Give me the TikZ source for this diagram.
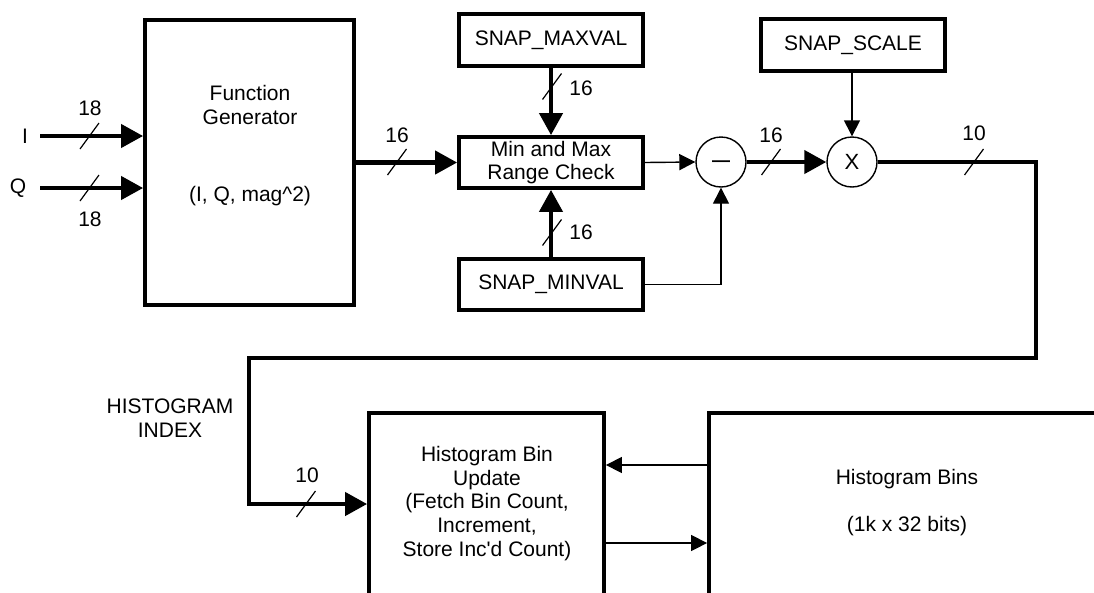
\documentclass[tikz,border=0pt]{standalone}
\usepackage{fontspec}
\setmainfont{Liberation Sans}
\usetikzlibrary{arrows.meta}
\begin{document}
\begin{tikzpicture}[x=1pt,y=-1pt,
  txt/.style={font=\fontsize{21}{23.7}\selectfont, inner sep=0pt, align=center},
  blk/.style={txt, draw, line width=3.8pt, rectangle},
  sumnode/.style={txt, draw, circle, line width=1.4pt, minimum size=50pt},
  bus/.style={line width=4.2pt},
  sig/.style={line width=1.4pt},
  bigtip/.style={-{Triangle[length=22pt,width=23pt]}},
  smalltip/.style={-{Triangle[length=16pt,width=16pt]}},
  slashmark/.style={line width=1.2pt},
]
\useasboundingbox (0,0) rectangle (1094,592);
\clip (0,0) rectangle (1094,592);

% blocks
\node[blk, minimum width=209pt, minimum height=285pt] (fg) at (249.5,162.5) {};
\node[txt] (fgt1) at (250,105) {Function\\Generator};
\node[txt] (fgt2) at (250,196) {(I, Q, mag\textasciicircum 2)};

\node[blk, minimum width=184pt, minimum height=52pt] (maxv) at (551,40) {SNAP\_MAXVAL};
\node[blk, minimum width=184pt, minimum height=51pt] (mm) at (551,162.5) {Min and Max\\Range Check};
\node[blk, minimum width=184pt, minimum height=51pt] (minv) at (551,284.5) {SNAP\_MINVAL};
\node[blk, minimum width=184pt, minimum height=52pt] (scale) at (853,45) {SNAP\_SCALE};

\node[sumnode] (minus) at (721,162) {};
\node[txt, font=\fontsize{18}{20}\selectfont\bfseries, yshift=-2pt] (minustxt) at (minus.center) {—};
\node[sumnode, font=\fontsize{22}{24}\selectfont] (times) at (852,162) {X};

\node[blk, minimum width=235pt, minimum height=227pt] (hbu) at (486.5,526.5) {};
\node[txt] (hbut) at (487,503.5) {Histogram Bin\\Update\\(Fetch Bin Count,\\Increment,\\Store Inc\textquotesingle d Count)};
\node[blk, minimum width=421pt, minimum height=227pt] (hb) at (919.5,526.5) {};
\node[txt] (hbt1) at (907,479) {Histogram Bins};
\node[txt] (hbt2) at (907,526) {(1k x 32 bits)};

% labels
\node[txt] (lI) at (25,136) {I};
\node[txt] (lQ) at (18,188) {Q};
\node[txt] (n18a) at (90,108) {18};
\node[txt] (n18b) at (90,219) {18};
\node[txt] (n16a) at (397,135) {16};
\node[txt] (n16b) at (581,88) {16};
\node[txt] (n16c) at (581,232) {16};
\node[txt] (n16d) at (771,135) {16};
\node[txt] (n10a) at (974,133) {10};
\node[txt] (n10b) at (307,475) {10};
\node[txt] (hidx) at (170,418) {HISTOGRAM\\INDEX};

% free ends and corners
\coordinate (inI) at (40,136);
\coordinate (inQ) at (40,188);
\coordinate (c1) at (1036,162);
\coordinate (c2) at (1036,358);
\coordinate (c3) at (249,358);
\coordinate (c4) at (249,504);

% connectors
\draw[bus, bigtip] (inI) -- (fg.west |- inI);
\draw[bus, bigtip] (inQ) -- (fg.west |- inQ);
\draw[bus, bigtip] (fg.east |- mm.west) -- (mm.west);
\draw[bus, bigtip] (maxv.south) -- (mm.north);
\draw[bus, bigtip] (minv.north) -- (mm.south);
\draw[sig, smalltip] (mm.east) -- (minus.west);
\draw[sig, smalltip] (minv.east) -| (minus.south);
\draw[bus, bigtip] (minus.east) -- (times.west);
\draw[sig, smalltip] (scale.south -| times.north) -- (times.north);
\draw[bus, line join=miter, bigtip] (times.east) -- (c1) -- (c2) -- (c3) -- (c4) -- (hbu.west |- c4);
\draw[sig, smalltip] (hb.west |- 0,465) -- (hbu.east |- 0,465);
\draw[sig, smalltip] (hbu.east |- 0,543) -- (hb.west |- 0,543);

% bus width slashes
\foreach \p in {(89.5,136),(89.5,188),(397,162),(552,86.5),(552,232.5),(771,162),(974,162),(306,504)}
  \draw[slashmark] \p ++(-9.5,13) -- ++(19,-26);
\end{tikzpicture}
\end{document}
